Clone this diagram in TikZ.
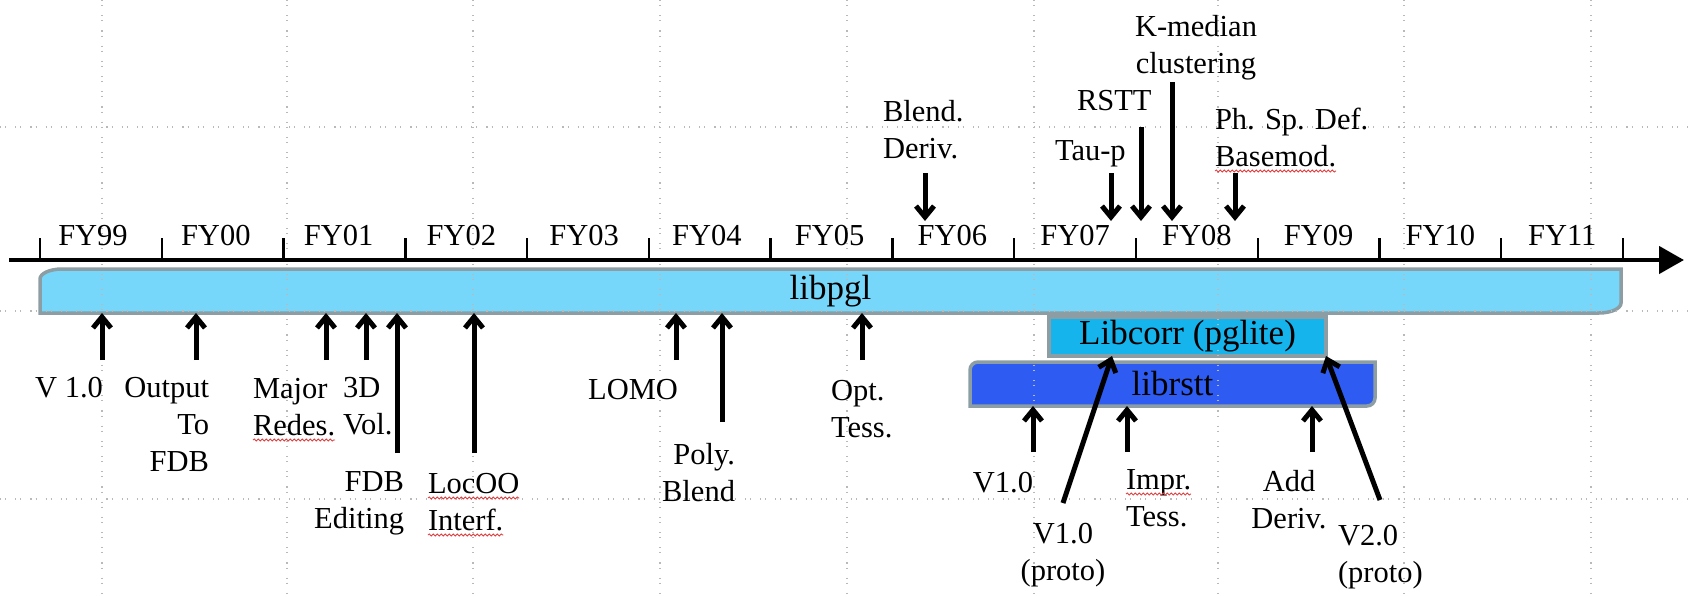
\documentclass[tikz,border=0pt]{standalone}
\usepackage{fontspec}
\setmainfont{Liberation Serif}
\usetikzlibrary{arrows.meta,backgrounds,decorations.pathmorphing}
\definecolor{pglblue}{RGB}{118,215,250}
\definecolor{corrblue}{RGB}{22,180,236}
\definecolor{rsttblue}{RGB}{46,92,242}
\definecolor{bargray}{RGB}{140,158,164}
\definecolor{squig}{RGB}{225,60,60}
\begin{document}
\begin{tikzpicture}[x=1pt,y=-1pt,
  lab/.style={font=\fontsize{30.5}{37}\selectfont, inner sep=0pt, outer sep=0pt},
  barlab/.style={font=\fontsize{35}{40}\selectfont, inner sep=0pt, outer sep=0pt},
  barshape/.style={draw=bargray, line width=3.5pt},
  gridline/.style={gray!55, line width=1.1pt, dash pattern=on 1.1pt off 4pt on 1.1pt off 9pt},
  evt/.style={line width=5pt, -{Straight Barb[length=11pt,width=18pt]}},
  squigline/.style={draw=squig, line width=0.8pt, decorate, decoration={snake, amplitude=1.1pt, segment length=4pt}},
]
\useasboundingbox (0,0) rectangle (1692,597);

% grid
\foreach \gx in {102,287,473,660,847,1034,1218,1404,1591}
  \draw[gridline] (\gx,0) -- (\gx,597);
\foreach \gy in {127,311,499}
  \draw[gridline] (0,\gy) -- (1692,\gy);

% bars
\node[barlab, minimum width=1581pt, minimum height=44pt] (pgl) at (830.5,291) {libpgl};
\node[barlab, minimum width=405pt, minimum height=44pt] (rstt) at (1172.5,384) {librstt};
\node[barlab, minimum width=277pt, minimum height=39pt] (corr) at (1187.5,336.5) {Libcorr (pglite)};
\begin{scope}[on background layer]
  \draw[barshape, fill=pglblue] ([xshift=22pt]pgl.north west) -- (pgl.north east)
    -- ([yshift=10pt]pgl.south east) arc[start angle=0,end angle=-90,x radius=22pt,y radius=10pt]
    -- (pgl.south west) -- ([yshift=-10pt]pgl.north west)
    arc[start angle=180,end angle=90,x radius=22pt,y radius=10pt] -- cycle;
  \draw[barshape, fill=rsttblue] ([xshift=8pt]rstt.north west) -- (rstt.north east)
    -- ([yshift=8pt]rstt.south east) arc[start angle=0,end angle=-90,radius=8pt]
    -- (rstt.south west) -- ([yshift=-8pt]rstt.north west)
    arc[start angle=180,end angle=90,radius=8pt] -- cycle;
  \draw[barshape, fill=corrblue] (corr.north west) rectangle (corr.south east);
\end{scope}

% time axis
\coordinate (axL) at (9,260);
\coordinate (axR) at (1684,260);
\draw[line width=4.5pt, -{Triangle[length=25pt,width=27pt]}] (axL) -- (axR);
\foreach \k in {0,...,13}
  \draw[line width=2.4pt] ({40+121.77*\k},238) -- ({40+121.77*\k},260);
\foreach \k/\lab in {0/FY99,1/FY00,2/FY01,3/FY02,4/FY03,5/FY04,6/FY05,7/FY06,8/FY07,9/FY08,10/FY09,11/FY10,12/FY11}
  \node[lab, anchor=base] (fy\k) at ({101+121.77*\k+min(0,\k-8)},245) {\lab};

% labels below
\node[lab, anchor=base east] (v10) at (103,397) {V 1.0};
\node[lab, anchor=north east, align=right] (out) at (209,377) {Output\\To\\FDB};
\node[lab, anchor=base west] (major) at (253,398) {Major};
\node[lab, anchor=base west] (redes) at (253,435) {Redes.};
\node[lab, anchor=north west, align=left] (vol) at (343,377) {3D\\Vol.};
\node[lab, anchor=north east, align=right] (fdbed) at (404,472) {FDB\\Editing};
\node[lab, anchor=base west] (locoo) at (428,493) {LocOO};
\node[lab, anchor=base west] (interf) at (428,530) {Interf.};
\node[lab, anchor=base east] (lomo) at (678,399) {LOMO};
\node[lab, anchor=north east, align=right] (poly) at (735,443) {Poly.\\Blend};
\node[lab, anchor=north west, align=left] (opt) at (831,380) {Opt.\\Tess.};
\node[lab, anchor=base east] (rv10) at (1033,492) {V1.0};
\node[lab, anchor=north, align=center] (v10p) at (1063,523) {V1.0\\(proto)};
\node[lab, anchor=base west] (impr) at (1126,489) {Impr.};
\node[lab, anchor=base west] (tess) at (1126,526) {Tess.};
\node[lab, anchor=north, align=center] (add) at (1289,470) {Add\\Deriv.};
\node[lab, anchor=north west, align=left] (v20p) at (1338,525) {V2.0\\(proto)};

% labels above
\node[lab, anchor=north west, align=left] (blend) at (883,100) {Blend.\\Deriv.};
\node[lab, anchor=base west] (taup) at (1055,160) {Tau-p};
\node[lab, anchor=base west] (rsttl) at (1077,110) {RSTT};
\node[lab, anchor=north, align=center] (kmed) at (1196,15) {K-median\\clustering};
\node[lab, anchor=base west] (phsp) at (1215,129) {Ph. Sp. Def.};
\node[lab, anchor=base west] (basemod) at (1215,166) {Basemod.};

% spell-check squiggles
\foreach \w in {redes,locoo,interf,impr,basemod}
  \draw[squigline] ([yshift=-5pt]\w.base west) -- ([yshift=-5pt]\w.base east);

% arrows up to libpgl
\coordinate (a1) at (102,360);
\coordinate (a2) at (196,360);
\coordinate (a3) at (326,360);
\coordinate (a4) at (366,360);
\coordinate (a5) at (397,453);
\coordinate (a6) at (474,453);
\coordinate (a7) at (676,360);
\coordinate (a8) at (722,422);
\coordinate (a9) at (862,360);
\foreach \a in {a1,a2,a3,a4,a5,a6,a7,a8,a9}
  \draw[evt] (\a) -- (\a |- pgl.south);

% arrows up to librstt
\coordinate (b1) at (1033,452);
\coordinate (b2) at (1127,452);
\coordinate (b3) at (1312,452);
\foreach \b in {b1,b2,b3}
  \draw[evt] (\b) -- (\b |- rstt.south);

% arrows to libcorr
\coordinate (c1) at (1063,503);
\coordinate (c2) at (1380,500);
\draw[evt] (c1) -- ([xshift=63pt]corr.south west);
\draw[evt] (c2) -- (corr.south east);

% arrows down to the axis
\coordinate (tipline) at (0,221);
\coordinate (d1) at (925,173);
\coordinate (d2) at (1111,173);
\coordinate (d3) at (1141,127);
\coordinate (d4) at (1172,82);
\coordinate (d5) at (1235,173);
\foreach \d in {d1,d2,d3,d4,d5}
  \draw[evt] (\d) -- (\d |- tipline);
\end{tikzpicture}
\end{document}
